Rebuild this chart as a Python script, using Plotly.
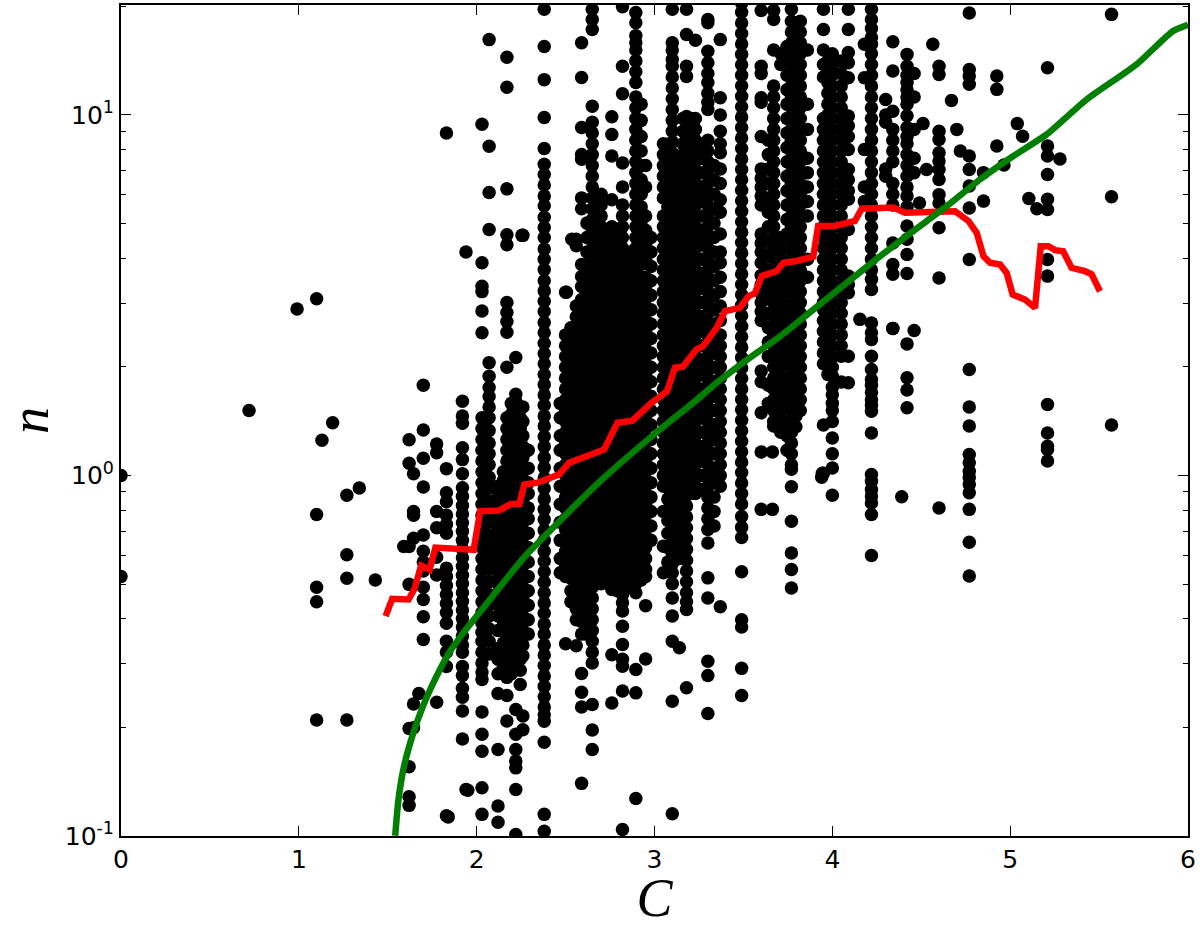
import plotly.graph_objects as go

# Black points: values, given as log10(n), grouped by C column
c1_62 = [.099,.034,-.197,-.302,-.702,-.808,-.891,-.915]
c1_645 = [.005,-.10,-.11,-.174,-.634,-.70]
c1_70 = [.25,.126,.048,-.032,-.165,-.21,-.24,-.265,-.31,-.344,-.392,-.455]
c1_775 = [.087,.063,-.10,-.145,-.227,-.276,-.629]
c1_83 = [.95,.019,-.048,-.073,-.11,-.135,-.16,-.257,-.28,-.305,-.33,-.355,-.38,-.41,-.46,-.49,-.53,-.944]
c1_92 = [.206,.165,.145,.077,.044,.005,-.034,-.058,-.083,-.107,-.131,-.155,-.18,-.204,-.228,-.252,-.277,-.3,-.325,-.349,-.373,-.397,-.42,-.445,-.47,-.49,-.53,-.555,-.59,-.615,-.653,-.731]
c2_03 = [.974,.59,.525,.51,.456,.396,.16,.13,.1,.07,.04,.01,-.02,-.05,-.08,-.11,-.14,-.17,-.2,-.23,-.26,-.29,-.32,-.35,-.38,-.41,-.435,-.46,-.49,-.52,-.545,-.566,-.656,-.718,-.765,-.866,-.94]
c2_07 = [1.209,.913,.785,.682,.313,.275,.244,.219,.19,.16,.125,.09,.06,.03,-.005,-.035,-.07,-.1,-.13,-.165,-.2,-.23,-.26,-.295,-.33,-.36,-.39,-.425,-.46,-.495]
c2_12 = [-.03,-.06,-.09,-.12,-.15,-.18,-.21,-.24,-.27,-.3,-.33,-.36,-.39,-.43,-.48,-.51,-.55,-.605,-.76,-.917,-.962]
c2_15 = [.01,-.015,-.045,-.075,-.105,-.135,-.165,-.195,-.225,-.255,-.285,-.315,-.345,-.375,-.405,-.43,-.465,-.5,-.53]
c2_17 = [1.16,1.077,.795,.668,.64,.48,.452,.427,.397,.30,.16,.13,.1,.07,.04,.01,-.02,-.05,-.08,-.11,-.14,-.17,-.2,-.23,-.26,-.29,-.32,-.35,-.38,-.41,-.45,-.5,-.56,-.61,-.681]
c2_195 = [.2,.17,.145,.115,.085,.055,.025,-.005,-.035,-.065,-.095,-.125,-.155,-.185,-.215,-.245,-.275,-.305,-.335,-.365,-.395,-.425,-.455,-.485,-.515,-.55]
c2_22 = [.327,.225,.205,.18,.15,.12,.09,.06,.03,0,-.03,-.06,-.09,-.12,-.15,-.18,-.21,-.24,-.27,-.3,-.33,-.36,-.39,-.42,-.45,-.48,-.51,-.53,-.649,-.718,-.76,-.792,-.811,-.871,-.996]
c2_245 = [.19,.16,.13,.1,.065,.035,.005,-.025,-.055,-.085,-.115,-.145,-.175,-.205,-.235,-.265,-.295,-.325,-.355,-.385,-.415,-.445,-.475,-.51,-.54,-.58]
c2_26 = [.666,.19,.15,.11,.08,.05,.02,-.01,-.04,-.07,-.1,-.13,-.16,-.19,-.22,-.25,-.28,-.31,-.34,-.37,-.4,-.43,-.47,-.5,-.667,-.705]
c2_29 = [.07,.02,-.02,-.05,-.09,-.12,-.16,-.2,-.24,-.28,-.32,-.36,-.4,-.44]
c2_38 = [1.293,1.19,1.098,.993,.907,.863,.835,.806,.775,.748,.716,.688,.66,.628,.6,.571,.54,.512,.483,.455,.424,.396,.367,.338,.31,.28,.252,.223,.195,.165,.137,.108,.08,.05,.022,-.007,-.036,-.065,-.094,-.122,-.152,-.18,-.21,-.238,-.267,-.296,-.325,-.354,-.382,-.412,-.44,-.47,-.498,-.527,-.556,-.585,-.614,-.642,-.664,-.682,-.74,-.94,-.987]
c2_47 = [.2,.16,.11,.07,.02,-.03,-.08,-.13,-.18,-.23,-.27]
c2_50 = [.39,.36,.33,.3,.27,.24,.21,.18,.15,.12,.09,.06,.03,0,-.03,-.06,-.09,-.12,-.15,-.18,-.21,-.25,-.28,.508,-.467]
c2_53 = [.41,.38,.345,.315,.285,.255,.225,.195,.165,.135,.105,.075,.045,.015,-.015,-.045,-.075,-.105,-.135,-.165,-.195,-.225,-.255,-.285,-.32,-.35]
c2_56 = [.655,.637,.47,.44,.41,.38,.35,.32,.29,.26,.23,.2,.17,.14,.11,.08,.05,.02,-.01,-.04,-.07,-.1,-.13,-.16,-.19,-.22,-.25,-.28,-.31,-.34,-.37,-.4,-.472]
c2_59 = [1.20,1.104,.965,.89,.877,.77,.74,.585,.552,.524,.488,.46,.43,.405,.375,.345,.315,.285,.255,.225,.195,.165,.135,.105,.075,.045,.015,-.015,-.045,-.075,-.105,-.135,-.165,-.195,-.225,-.255,-.285,-.315,-.345,-.375,-.405,-.44,-.549,-.601,-.642,-.854]
c2_62 = [.7,.66,.62,.585,.55,.52,.49,.455,.425,.395,.365,.335,.305,.275,.245,.215,.185,.155,.125,.095,.065,.035,.005,-.025,-.055,-.085,-.115,-.145,-.175,-.205,-.235,-.265,-.295,-.325,-.355,-.385,-.415,-.44]
c2_65 = [1.293,1.265,1.237,1.024,.98,.95,.92,.89,.86,.83,.8,.77,.74,.71,.68,.65,.62,.59,.56,.53,.5,.47,.44,.41,.38,.35,.32,.29,.26,.23,.2,.17,.14,.11,.08,.05,.02,-.01,-.04,-.07,-.1,-.13,-.16,-.19,-.22,-.25,-.28,-.31,-.34,-.37,-.4,-.43,-.46,-.49,-.52,-.635,-.706,-.76]
c2_70 = [.78,.75,.72,.69,.66,.63,.6,.57,.54,.51,.48,.45,.42,.39,.36,.33,.3,.27,.24,.21,.18,.15,.12,.09,.06,.03,0,-.03,-.06,-.09,-.12,-.15,-.18,-.21,-.24,-.27,-.30]
c2_73 = [.66,.63,.6,.565,.535,.505,.475,.445,.415,.385,.355,.325,.295,.265,.235,.205,.175,.145,.115,.085,.055,.025,-.005,-.035,-.065,-.095,-.125,-.155,-.185,-.215,-.245,-.28]
c2_76 = [.995,.946,.886,.765,.69,.66,.63,.6,.57,.54,.51,.48,.45,.42,.39,.36,.33,.3,.27,.24,.21,.18,.15,.12,.09,.06,.03,0,-.03,-.06,-.09,-.12,-.15,-.18,-.21,-.24,-.27,-.3,-.316,-.497,-.631]
c2_79 = [.68,.645,.615,.585,.555,.525,.495,.465,.435,.405,.375,.345,.315,.285,.255,.225,.195,.165,.135,.105,.075,.045,.015,-.015,-.045,-.075,-.105,-.135,-.165,-.195,-.225,-.255,-.285,-.32]
c2_82 = [1.30,1.135,1.059,.867,.80,.75,.72,.69,.66,.63,.6,.57,.54,.51,.48,.45,.42,.39,.36,.33,.3,.27,.24,.21,.18,.15,.12,.09,.06,.03,0,-.03,-.06,-.09,-.12,-.15,-.18,-.21,-.24,-.27,-.3,-.33,-.353,-.376,-.418,-.469,-.51,-.529,-.598,-.982]
c2_86 = [.62,.585,.555,.525,.495,.465,.435,.405,.375,.345,.315,.285,.255,.225,.195,.165,.135,.105,.075,.045,.015,-.015,-.045,-.075,-.105,-.135,-.165,-.195,-.225,-.255,-.285,-.31]
c2_895 = [1.284,1.256,1.22,1.2,1.18,1.15,1.12,1.09,1.05,1.02,.99,.96,.93,.9,.87,.84,.81,.78,.75,.72,.69,.66,.63,.6,.57,.54,.51,.48,.45,.42,.39,.36,.33,.3,.27,.24,.21,.18,.15,.12,.09,.06,.03,0,-.03,-.06,-.09,-.12,-.15,-.18,-.21,-.24,-.27,-.3,-.325,-.538,-.603,-.896]
c2_925 = [1.03,.985,.94,.9,.86,.82,.78,.745,.705,.665,.625,.585,.55,.515,.48,.445,.41,.375,.34,.305,.27,.235,.2,.165,.13,.095,.06,.025,-.01,-.045,-.08,-.115,-.15,-.185,-.22,-.255,-.29]
c2_95 = [.86,.80,.72,.68,.64,.6,.55,.52,.49,.46,.43,.4,.37,.34,.31,.28,.25,.22,.19,.16,.13,.1,.07,.04,.01,-.02,-.05,-.08,-.11,-.14,-.17,-.2,-.23,-.26,-.28,-.361,-.509]
c2_98 = [.66,.62,.58,.54,.5,.46,.42,.38,.34,.3,.26,.22,.18,.14,.1,.06,.02,-.02,-.06,-.1,-.14,-.18]
c3_05 = [.92,.89,.86,.83,.8,.77,.72,.69,.66,.63,.6,.57,.54,.51,.48,.45,.42,.39,.36,.33,.3,.27,.24,.21,.18,.15,.12,.09,.06,.03,0,-.03,-.1,-.196,-.27]
c3_075 = [.9,.865,.835,.805,.775,.745,.715,.685,.655,.625,.595,.565,.535,.505,.475,.445,.415,.385,.355,.325,.295,.265,.235,.205,.175,.145,.115,.085,.055,.025,-.005,-.035,-.065,-.095,-.125,-.16,-.2,-.24]
c3_10 = [1.293,1.2,1.18,1.154,1.135,1.105,1.075,1.045,1.015,.985,.955,.925,.895,.865,.835,.805,.775,.745,.715,.685,.655,.625,.595,.565,.535,.505,.475,.445,.415,.385,.355,.325,.295,.265,.235,.205,.175,.145,.115,.085,.055,.025,-.005,-.035,-.065,-.095,-.125,-.155,-.185,-.215,-.245,-.27,-.30,-.34,-.39,-.46,-.626,-.938]
c3_14 = [.88,.85,.82,.79,.76,.73,.7,.67,.64,.61,.58,.55,.52,.49,.46,.43,.4,.37,.34,.31,.28,.25,.22,.19,.16,.13,.1,.07,.04,.01,-.02,-.05,-.08,-.11,-.14,-.17,-.2,-.23,-.478]
c3_16 = [.99,.955,.92,.89,.855,.825,.79,.76,.725,.695,.66,.63,.595,.565,.53,.5,.465,.435,.4,.37,.335,.305,.27,.24,.205,.175,.14,.11,.075,.045,.01,-.02]
c3_18 = [1.293,1.223,1.135,1.107,.996,.965,.935,.905,.875,.845,.815,.785,.755,.725,.695,.665,.635,.605,.575,.545,.515,.485,.455,.425,.395,.365,.335,.305,.275,.245,.215,.185,.155,.125,.095,.065,.035,.005,-.025,-.055,-.085,-.115,-.145,-.175,-.205,-.235,-.265,-.295,-.325,-.35,-.372,-.589]
c3_205 = [.99,.955,.925,.89,.86,.825,.795,.76,.73,.695,.665,.63,.6,.565,.535,.5,.47,.435,.405,.37,.34,.305,.275,.24,.21,.175,.145,.11,.08,.045,.015,-.02,-.05]
c3_23 = [1.207,.99,.96,.93,.9,.87,.84,.81,.78,.75,.72,.69,.66,.63,.6,.57,.54,.51,.48,.45,.42,.39,.36,.33,.3,.27,.24,.21,.18,.15,.12,.09,.06,.03,0,-.03,-.05]
c3_265 = [.92,.88,.84,.8,.76,.72,.68,.64,.6,.56,.52,.48,.44,.4,.36,.32,.28,.24,.2,.16,.12,.08,.04,0,-.04]
c3_30 = [1.265,1.256,1.177,1.145,1.115,1.09,1.06,1.035,1.015,.93,.9,.87,.84,.81,.78,.75,.72,.69,.66,.63,.6,.57,.54,.51,.48,.45,.42,.39,.36,.33,.3,.27,.24,.21,.18,.15,.12,.09,.06,.03,0,-.03,-.06,-.09,-.12,-.15,-.187,-.284,-.34,-.515,-.555,-.66]
c3_335 = [.86,.82,.78,.74,.7,.66,.62,.58,.54,.5,.46,.42,.38,.34,.3,.26,.22,.18,.14,.1,.06,.02,-.02,-.06,-.1,-.14]
c3_37 = [1.209,1.048,1.0,.955,.92,.895,.85,.81,.765,.73,.67,.62,.59,.55,.51,.47,.43,.39,.36,.33,.3,.27,.24,.21,.18,.15,.12,.09,.06,.03,0,-.03,-.364]
c3_49 = [1.31,1.285,1.255,1.226,1.197,1.168,1.139,1.11,1.081,1.052,1.023,.994,.965,.936,.907,.878,.849,.82,.791,.762,.733,.704,.675,.646,.617,.588,.559,.53,.501,.472,.443,.414,.385,.356,.327,.298,.269,.24,.211,.182,.153,.124,.095,.066,.037,.008,-.021,-.05,-.079,-.114,-.144,-.172,-.267,-.40,-.42,-.535,-.61]
c3_60 = [1.29,1.135,1.115,1.048,1.035,.94,.85,.825,.8,.775,.75,.67,.645,.62,.59,.555,.53,.505,.48,.455,.43,.29,.26,.174,.065,-.094]
c3_64 = [.93,.89,.85,.81,.77,.73,.69,.65,.61,.57,.53,.49,.45,.41,.37,.33,.25,.2]
c3_67 = [1.29,1.265,1.18,1.08,1.05,1.02,.99,.96,.93,.9,.87,.84,.81,.78,.75,.72,.69,.66,.63,.6,.57,.54,.51,.48,.45,.42,.39,.36,.33,.3,.27,.24,.21,.18,.15,.137]
c3_71 = [1.17,1.14,.66,.63,.6,.57,.54,.51,.48,.45,.42,.39,.36,.33,.3,.27,.24,.21,.18,.15,.12]
c3_745 = [1.19,1.15,1.11,1.07,1.03,.99,.95,.91,.87,.83,.79,.75,.71,.67,.63,.59,.55,.51,.47,.43,.39,.35,.31,.27,.23,.19,.15,.11,.07]
c3_77 = [1.293,1.26,1.23,1.2,1.17,1.14,1.11,1.08,1.05,1.02,.99,.96,.93,.9,.87,.84,.81,.78,.75,.72,.69,.66,.63,.6,.57,.54,.51,.48,.45,.42,.39,.36,.33,.3,.27,.24,.21,.18,.15,.12,.09,.06,.03,.017,-.031,-.127,-.215,-.261,-.312]
c3_795 = [1.25,1.215,1.185,1.155,1.125,1.095,1.065,1.035,1.005,.975,.945,.915,.885,.855,.825,.795,.765,.735,.705,.675,.645,.615,.585,.555,.525,.495,.465,.435,.405,.375,.345,.315,.285,.255,.225,.195,.165,.135]
c3_82 = [1.26,1.23,1.2,1.17,1.14,1.11,1.08,1.05,1.02,.99,.96,.93,.9,.87,.84,.81,.78,.75,.72,.69,.66,.63,.6,.57,.54,.51,.48,.45,.42,.39,.36,.33,.3,.27,.24,.21,.18]
c3_86 = [1.18,1.03,.96,.88,.84,.8,.76,.72,.6,.55]
c3_95 = [1.293,1.237,1.18,1.14,1.105,.99,.96,.93,.9,.87,.84,.81,.78,.75,.72,.69,.66,.63,.6,.57,.54,.51,.48,.46,.43,.4,.37,.34,.31,.14,.006]
c3_975 = [1.15,1.12,1.09,1.06,1.03,1.0,.97,.94,.905,.875,.845,.815,.785,.755,.725,.695,.665,.635,.605,.575,.545,.515,.485,.455,.425,.395,.365,.335,.305,.28]
c4_00 = [1.17,1.14,1.11,1.08,1.05,1.02,.99,.96,.93,.9,.87,.84,.81,.78,.75,.72,.69,.66,.63,.6,.57,.54,.51,.48,.45,.42,.39,.36,.33,.3,.275,.245,.224,.2,.18,.15,.104,.06,.021,-.055]
c4_05 = [1.15,1.115,1.08,1.05,1.02,.99,.96,.93,.9,.87,.84,.81,.78,.75,.72,.69,.66,.63,.6,.57,.54,.51,.48,.45,.42,.39,.36,.331,.259]
c4_09 = [1.293,1.237,1.173,1.145,1.103,.997,.97,.94,.904,.849,.82,.79,.766,.682,.553,.53,.507,.331,.257]
c4_18 = [1.196,1.103,.904,.8,.76]
c4_22 = [1.293,1.265,1.24,1.215,1.196,1.17,1.14,1.11,1.08,1.05,1.02,.99,.96,.93,.9,.87,.84,.81,.78,.75,.72,.69,.66,.63,.6,.57,.544,.516,.423,.396,.377,.331,.294,.266,.25,.23,.21,.195,.178,.118,.003,-.016,-.039,-.057,-.076,-.108,-.222]
c4_34 = [1.203,1.122,1.01,.96,.93,.9,.87,.81,.78,.75,.645,.585,.558,.408]
c4_30 = [1.043,1.0,.98,.85,.83]
c4_42 = [1.168,1.135,1.11,1.09,1.07,1.05,1.03,.998,.965,.94,.92,.89,.86,.83,.8,.775,.745,.692,.655,.613,.56,.365,.271,.237,.188]
c4_46 = [1.115,1.05,.96,.88,.84,.402]
c4_49 = [.756]
c4_60 = [1.135,1.112,.955,.932,.895,.872,.849,.821,.779,.756,.687,.548,-.09]
c4_77 = [1.283,1.126,1.108,1.085,.886,.849,.803,.742,.599,.294,.19,.137,.058,.035,.012,-.006,-.025,-.048,-.094,-.185,-.279]
c4_925 = [1.108,1.071,.914]
c5_21 = [1.131,.914,.886,.835,.766,.738,.599,.553,.197,.118,.081,.072,.04]

columns = [(1.62,c1_62),(1.645,c1_645),(1.70,c1_70),(1.775,c1_775),(1.83,c1_83),(1.92,c1_92),
           (2.03,c2_03),(2.07,c2_07),(2.12,c2_12),(2.15,c2_15),(2.17,c2_17),(2.195,c2_195),(2.22,c2_22),
           (2.245,c2_245),(2.26,c2_26),(2.29,c2_29),(2.38,c2_38),(2.47,c2_47),(2.50,c2_50),(2.53,c2_53),
           (2.56,c2_56),(2.59,c2_59),(2.62,c2_62),(2.65,c2_65),(2.70,c2_70),(2.73,c2_73),(2.76,c2_76),
           (2.79,c2_79),(2.82,c2_82),(2.86,c2_86),(2.895,c2_895),(2.925,c2_925),(2.95,c2_95),(2.98,c2_98),
           (3.05,c3_05),(3.075,c3_075),(3.10,c3_10),(3.14,c3_14),(3.16,c3_16),(3.18,c3_18),(3.205,c3_205),
           (3.23,c3_23),(3.265,c3_265),(3.30,c3_30),(3.335,c3_335),(3.37,c3_37),(3.49,c3_49),(3.60,c3_60),
           (3.64,c3_64),(3.67,c3_67),(3.71,c3_71),(3.745,c3_745),(3.77,c3_77),(3.795,c3_795),(3.82,c3_82),
           (3.86,c3_86),(3.95,c3_95),(3.975,c3_975),(4.00,c4_00),(4.05,c4_05),(4.09,c4_09),(4.18,c4_18),
           (4.22,c4_22),(4.30,c4_30),(4.34,c4_34),(4.42,c4_42),(4.46,c4_46),(4.49,c4_49),(4.60,c4_60),
           (4.77,c4_77),(4.925,c4_925),(5.21,c5_21)]

# Isolated points
single_C = [0,0,.72,.99,1.10,1.13,1.19,1.10,1.10,1.10,1.10,1.27,1.34,1.27,1.27,1.27,1.43,1.59,1.675,1.94,1.94,1.84,1.95,2.255,2.505,2.535,3.663,3.663,3.944,3.94,4.155,4.34,4.39,4.565,4.67,4.51,4.70,4.72,4.53,4.85,4.85,5.04,5.07,5.28,4.965,5.105,5.15,5.57,5.57,5.57]
single_log = [0,-.28,.18,.462,.49,.098,.146,-.108,-.31,-.35,-.678,-.055,-.035,-.22,-.285,-.678,-.29,-.197,-.605,.62,-.871,-.947,-.873,.666,.508,.655,.065,-.094,.006,-.005,.433,.408,-.059,1.196,1.04,.976,.96,.90,.849,.84,.761,.976,.941,.878,.861,.768,.74,1.279,.773,.14]

# Red curve
red_C = [1.488,1.525,1.617,1.65,1.688,1.735,1.768,1.983,2.02,2.127,2.193,2.24,2.268,2.343,2.464,2.52,2.717,2.792,2.876,2.979,3.07,3.115,3.16,3.237,3.274,3.35,3.397,3.48,3.528,3.565,3.603,3.688,3.725,3.80,3.893,3.92,4.015,4.127,4.165,4.343,4.409,4.606,4.69,4.765,4.812,4.85,4.887,4.943,4.98,5.014,5.083,5.14,5.172,5.215,5.252,5.298,5.345,5.42,5.458,5.505]
red_log = [-.39,-.342,-.344,-.315,-.25,-.261,-.20,-.206,-.099,-.097,-.079,-.079,-.025,-.02,.003,.035,.072,.146,.152,.2,.233,.299,.302,.35,.359,.41,.456,.465,.497,.506,.553,.567,.59,.595,.607,.692,.692,.706,.74,.743,.729,.733,.733,.706,.673,.608,.59,.585,.562,.502,.488,.465,.636,.636,.625,.622,.576,.567,.558,.511]

# Green curve
green_C = [1.542,1.56,1.59,1.639,1.69,1.746,1.80,1.854,1.92,2.0,2.09,2.17,2.28,2.42,2.55,2.717,2.998,3.24,3.35,3.537,3.706,3.893,4.08,4.268,4.455,4.643,4.83,5.018,5.205,5.43,5.71,5.916,6.0]
green_log = [-.999,-.90,-.81,-.721,-.65,-.586,-.532,-.485,-.44,-.39,-.335,-.285,-.22,-.15,-.085,-.006,.114,.211,.257,.327,.386,.46,.534,.608,.678,.747,.821,.886,.946,1.043,1.14,1.233,1.25]

x_ticks = [0,1,2,3,4,5,6]
y_ticks = [0.1,1,10]
y_tick_labels = ["10<sup>-1</sup>","10<sup>0</sup>","10<sup>1</sup>"]
y_minor = [.2,.3,.4,.5,.6,.7,.8,.9,2,3,4,5,6,7,8,9,20]

pts_C, pts_n = [], []
for c, vals in columns:
    for v in vals:
        pts_C.append(c)
        pts_n.append(10 ** v)
for c, v in zip(single_C, single_log):
    pts_C.append(c)
    pts_n.append(10 ** v)

fig = go.Figure()
fig.add_trace(go.Scatter(x=pts_C, y=pts_n, mode="markers",
                         marker=dict(color="black", size=13.5, line=dict(width=0))))
fig.add_trace(go.Scatter(x=red_C, y=[10 ** v for v in red_log], mode="lines",
                         line=dict(color="#ff0000", width=6.5)))
fig.add_trace(go.Scatter(x=green_C, y=[10 ** v for v in green_log], mode="lines",
                         line=dict(color="#007f00", width=6.5, shape="spline", smoothing=0.6)))

axis_font = dict(family="DejaVu Sans", size=25, color="black")
fig.update_xaxes(range=[0, 6], tickmode="array", tickvals=x_ticks, ticks="inside", ticklen=10, tickwidth=1,
                 tickcolor="black", showline=True, linecolor="black", linewidth=2, mirror="ticks",
                 showgrid=False, zeroline=False, tickfont=axis_font,
                 title=dict(text="<i>C</i>", font=dict(family="Liberation Serif", size=54, color="black"), standoff=14))
fig.update_yaxes(type="log", range=[-1, 1.305], tickmode="array", tickvals=y_ticks, ticktext=y_tick_labels,
                 ticks="inside", ticklen=10, tickwidth=1, tickcolor="black", showline=True, linecolor="black",
                 linewidth=2, mirror="ticks", showgrid=False, zeroline=False, tickfont=axis_font,
                 minor=dict(tickmode="array", tickvals=y_minor, ticks="inside", ticklen=5, tickwidth=1,
                            tickcolor="black", showgrid=False),
                 title=dict(text="<i>n</i>", font=dict(family="Liberation Serif", size=54, color="black"), standoff=28))
fig.update_layout(width=1200, height=928, margin=dict(l=121, r=12, t=5, b=92, autoexpand=False),
                  plot_bgcolor="white", paper_bgcolor="white", showlegend=False)
fig.write_html("out.html", config=dict(displayModeBar=False), post_script="document.body.style.margin='0';")
